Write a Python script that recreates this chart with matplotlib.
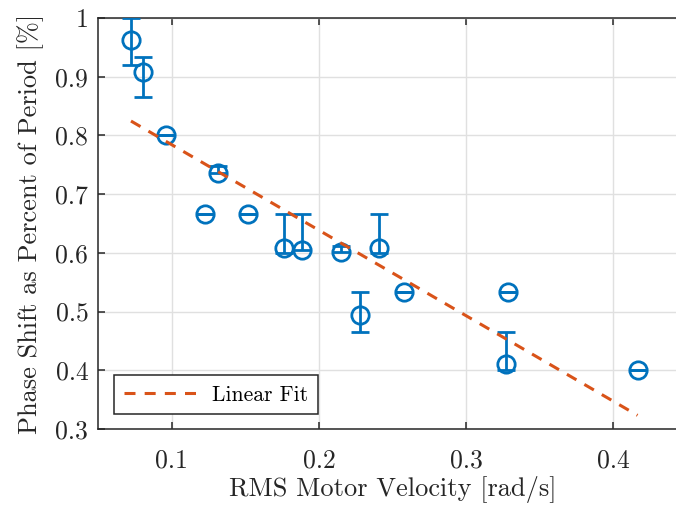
import matplotlib
matplotlib.use("Agg")
import matplotlib.pyplot as plt
import numpy as np

# Data
velocity = [0.0724, 0.0808, 0.0960, 0.1224, 0.1317, 0.1516, 0.1765, 0.1885,
            0.2152, 0.2276, 0.2408, 0.2580, 0.3270, 0.3284, 0.4164]
phase = [0.962, 0.908, 0.800, 0.667, 0.736, 0.667, 0.609, 0.605,
         0.602, 0.495, 0.609, 0.533, 0.411, 0.533, 0.400]
err_low = [0.042, 0.042, 0.0, 0.0, 0.0, 0.0, 0.009, 0.0,
           0.0, 0.030, 0.009, 0.0, 0.010, 0.0, 0.0]
err_high = [0.038, 0.026, 0.0, 0.0, 0.012, 0.0, 0.058, 0.062,
            0.009, 0.038, 0.058, 0.0, 0.055, 0.0, 0.0]
fit_slope = -1.457
fit_intercept = 0.930

plt.rcParams['font.family'] = ['cmr10', 'DejaVu Serif']
plt.rcParams['axes.formatter.use_mathtext'] = True
plt.rcParams['mathtext.fontset'] = 'cm'

blue = '#0072BD'
orange = '#D95319'
dark = '#262626'

fig = plt.figure(figsize=(6.76, 5.08), dpi=100)
ax = fig.add_axes([98/676, 1-429/508, (687-98)/676, (429-18)/508])

ax.errorbar(velocity, phase, yerr=[err_low, err_high], fmt='o', color=blue,
            mfc='none', mec=blue, ms=12.5, mew=2.0, elinewidth=2.0,
            capsize=6.5, capthick=2.0, zorder=3)

vx = np.array([min(velocity), max(velocity)])
ax.plot(vx, fit_slope * vx + fit_intercept, '--', color=orange, lw=2.2,
        dashes=(3.6, 3.0), label='Linear Fit', zorder=4)

ax.set_xlim(0.05, 0.45)
ax.set_ylim(0.3, 1.0)
ax.set_xticks([0.1, 0.2, 0.3, 0.4])
ax.set_yticks([0.3, 0.4, 0.5, 0.6, 0.7, 0.8, 0.9, 1.0])
ax.set_xticklabels(['0.1', '0.2', '0.3', '0.4'])
ax.set_yticklabels(['0.3', '0.4', '0.5', '0.6', '0.7', '0.8', '0.9', '1'])

ax.grid(True, color='#e0e0e0', lw=1.0)
ax.set_axisbelow(True)
for s in ax.spines.values():
    s.set_color(dark)
    s.set_linewidth(1.1)
ax.tick_params(direction='in', length=5, width=1.1, colors=dark,
               labelsize=18.5, top=True, right=True)
ax.tick_params(axis='x', pad=14)
ax.tick_params(axis='y', pad=7)

ax.set_xlabel('RMS Motor Velocity [rad/s]', fontsize=19, color=dark, labelpad=3)
ax.set_ylabel('Phase Shift as Percent of Period [%]', fontsize=19, color=dark, labelpad=8)

leg = ax.legend(loc='lower left', bbox_to_anchor=(0.027, 0.036), borderaxespad=0,
                fontsize=15.5, handlelength=3.5, fancybox=False, framealpha=1,
                edgecolor=dark, borderpad=0.45, handletextpad=0.6)
leg.get_frame().set_linewidth(1.1)

fig.savefig('out.png', dpi=100)
